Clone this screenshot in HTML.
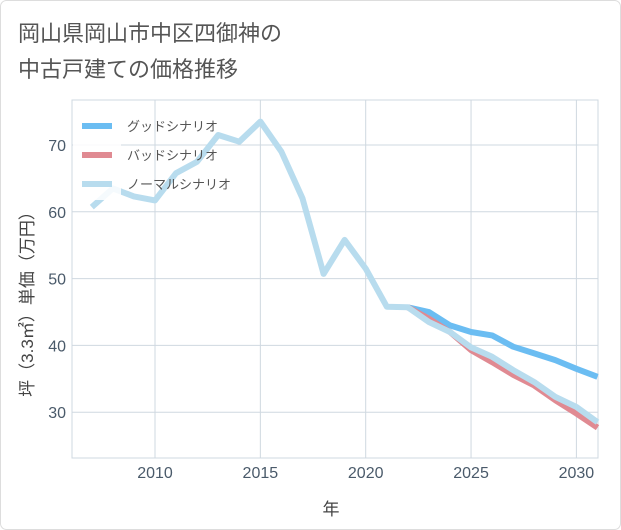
<!DOCTYPE html>
<html><head><meta charset="utf-8"><style>
body{margin:0;background:#fff;}
svg{display:block;font-family:"Liberation Sans","Noto Sans CJK JP",sans-serif;}
</style></head><body>
<svg id="c" width="621" height="530" viewBox="0 0 621 530">
<rect x="0.5" y="0.5" width="620" height="529" rx="6" fill="#fff" stroke="#ddd"/>
<text x="18" y="41" font-size="22" fill="#555">岡山県岡山市中区四御神の</text>
<text x="18" y="77" font-size="22" fill="#555">中古戸建ての価格推移</text>
<g id="grid"></g>
<g id="series"></g>
<rect x="73" y="105" width="48" height="95" fill="#fff" opacity="0.85"/>
<g id="legend"></g>
<text x="331" y="515" font-size="17" fill="#444" text-anchor="middle">年</text>
<text transform="translate(33,300) rotate(-90)" font-size="17" fill="#444" text-anchor="middle">坪（3.3㎡）単価（万円）</text>
</svg>
<script>
const years=[2007,2008,2009,2010,2011,2012,2013,2014,2015,2016,2017,2018,2019,2020,2021,2022,2023,2024,2025,2026,2027,2028,2029,2030,2031];
const normal=[60.7,63.5,62.3,61.7,65.8,67.5,71.5,70.5,73.5,69,62,50.7,55.8,51.5,45.8,45.7,43.5,42,39.7,38.3,36.3,34.5,32.3,30.8,28.5];
const fYears=[2022,2023,2024,2025,2026,2027,2028,2029,2030,2031];
const good=[45.7,45,43,42,41.5,39.8,38.8,37.8,36.5,35.3];
const bad=[45.7,44,42,39.3,37.5,35.6,34,31.8,29.8,27.7];
const xTicks=[2010,2015,2020,2025,2030];
const yTicks=[30,40,50,60,70];
const L=72,R=598,T=100,B=458;
const xs=y=>155+(y-2010)*21.07;
const ys=v=>145+(70-v)*6.68;
const NS="http://www.w3.org/2000/svg";
function mk(p,t,a){const e=document.createElementNS(NS,t);for(const k in a)e.setAttribute(k,a[k]);p.appendChild(e);return e;}
const g=document.getElementById('grid');
const frame=mk(g,'rect',{x:L,y:T,width:R-L,height:B-T,fill:'none',stroke:'#cfd8e0'});


xTicks.forEach(t=>{
 const l=mk(g,'line',{x1:xs(t),x2:xs(t),y1:T,y2:B,stroke:'#cfd8e0'});
 
 
 const tx=mk(g,'text',{x:xs(t),y:478,'font-size':16,fill:'#4a5a6a','text-anchor':'middle'});tx.textContent=t;
 
 
});
yTicks.forEach(t=>{
 const l=mk(g,'line',{x1:L,x2:R,y1:ys(t),y2:ys(t),stroke:'#cfd8e0'});
 
 
 const tx=mk(g,'text',{x:66,y:ys(t)+6,'font-size':16,fill:'#4a5a6a','text-anchor':'end'});tx.textContent=t;
 
 
});
const s=document.getElementById('series');
function line(xv,yv,color,name){
 const d=xv.map((x,i)=>(i?'L':'M')+xs(x).toFixed(1)+','+ys(yv[i]).toFixed(1)).join(' ');
 const p=mk(s,'path',{d:d,fill:'none',stroke:color,'stroke-width':6,'stroke-linejoin':'round'});
 
 
}
line(fYears,good,'#6bbdf2','good-scenario-line');
line(fYears,bad,'#e08a92','bad-scenario-line');
line(years,normal,'#b8dcee','normal-scenario-line');
const lg=document.getElementById('legend');
[['グッドシナリオ','#6bbdf2',126],['バッドシナリオ','#e08a92',155],['ノーマルシナリオ','#b8dcee',184]].forEach(([n,c,y],i)=>{
 const l=mk(lg,'line',{x1:82,x2:112,y1:y,y2:y,stroke:c,'stroke-width':6});
 
 
 const t=mk(lg,'text',{x:127,y:y+5,'font-size':13,fill:'#555'});t.textContent=n;
 
 
});
</script>
</body></html>
